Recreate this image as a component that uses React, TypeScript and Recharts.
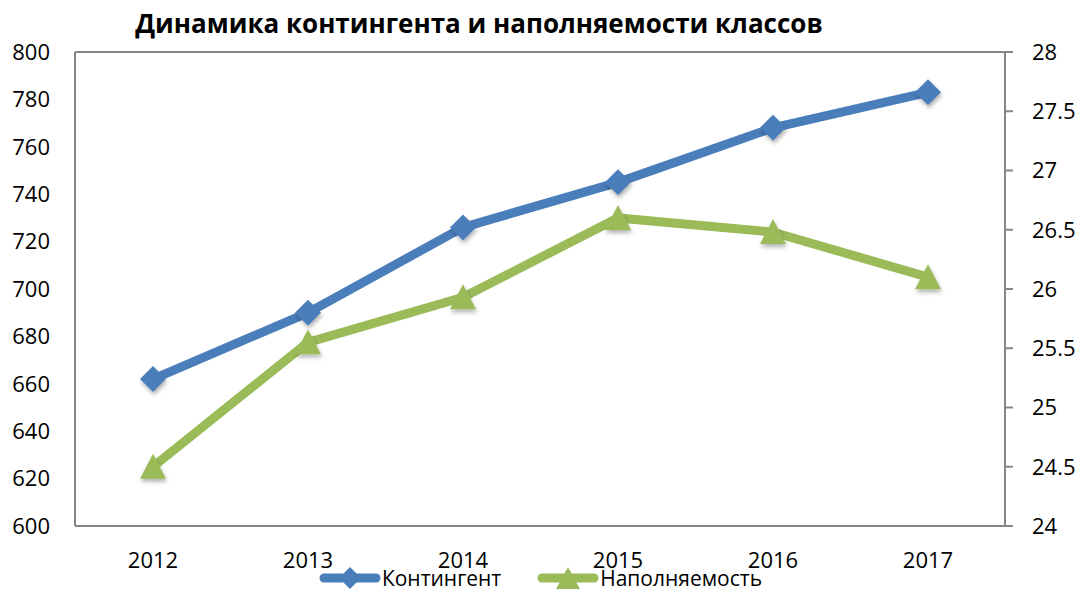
import { LineChart, Line, XAxis, YAxis, CartesianGrid, Legend } from 'recharts'

const years = ['2012', '2013', '2014', '2015', '2016', '2017']
const kontingent = [662, 690, 726, 745, 768, 783]
const napolnyaemost = [24.5, 25.55, 25.93, 26.6, 26.48, 26.1]
const leftTicks = [600, 620, 640, 660, 680, 700, 720, 740, 760, 780, 800]
const rightTicks = [24, 24.5, 25, 25.5, 26, 26.5, 27, 27.5, 28]

const BLUE = '#4a7ebb'
const GREEN = '#9bbb59'
const GRID = '#868686'
const FONT = '"Open Sans", "Noto Sans", sans-serif'

const data = years.map((y, i) => ({
  year: y,
  Контингент: kontingent[i],
  Наполняемость: napolnyaemost[i],
}))

const Diamond = (props: any) => {
  const { cx, cy } = props
  if (cx == null || cy == null) return null
  const r = 13
  return (
    <path
      d={`M${cx},${cy - r} L${cx + r},${cy} L${cx},${cy + r} L${cx - r},${cy} Z`}
      fill={BLUE}
      filter="url(#shadow)"
    />
  )
}

const Triangle = (props: any) => {
  const { cx, cy } = props
  if (cx == null || cy == null) return null
  return (
    <path
      d={`M${cx},${cy - 13} L${cx + 13},${cy + 12} L${cx - 13},${cy + 12} Z`}
      fill={GREEN}
      filter="url(#shadow)"
    />
  )
}

const LegendContent = () => {
  const items = [
    { name: 'Контингент', color: BLUE, shape: 'diamond' },
    { name: 'Наполняемость', color: GREEN, shape: 'triangle' },
  ]
  return (
    <div style={{ display: 'flex', justifyContent: 'center', gap: 36, fontFamily: FONT, fontSize: 21, color: '#000', height: 24 }}>
      {items.map((it) => (
        <div key={it.name} style={{ display: 'flex', alignItems: 'center' }}>
          <svg width={62} height={24} style={{ marginRight: 1 }}>
            <line x1={5} y1={12} x2={57} y2={12} stroke={it.color} strokeWidth={9} strokeLinecap="round" />
            {it.shape === 'diamond' ? (
              <path d="M31,1 L42,12 L31,23 L20,12 Z" fill={it.color} />
            ) : (
              <path d="M31,1 L43,23 L19,23 Z" fill={it.color} />
            )}
          </svg>
          <span style={{ lineHeight: '24px' }}>{it.name}</span>
        </div>
      ))}
    </div>
  )
}

export default function App() {
  return (
    <div style={{ position: 'absolute', left: 0, top: 0, width: 1081, height: 590, background: '#fff' }}>
      <div
        style={{
          position: 'absolute',
          left: 0,
          width: 958,
          top: 5,
          textAlign: 'center',
          fontFamily: FONT,
          fontWeight: 'bold',
          fontSize: 26,
          color: '#000',
          zIndex: 2,
        }}
      >
        Динамика контингента и наполняемости классов
      </div>
      <LineChart width={1081} height={590} data={data} margin={{ top: 52, right: 0, left: 0, bottom: 0 }}>
        <defs>
          <filter id="shadow" x="-50%" y="-50%" width="200%" height="200%">
            <feDropShadow dx="1" dy="3" stdDeviation="2" floodColor="#000" floodOpacity="0.3" />
          </filter>
        </defs>
        <CartesianGrid vertical={false} stroke={GRID} strokeWidth={2} />
        <XAxis
          dataKey="year"
          height={40}
          padding={{ left: 78, right: 77 }}
          tickLine={false}
          axisLine={{ stroke: GRID, strokeWidth: 2 }}
          tick={{ fontSize: 22, fill: '#000', fontFamily: FONT }}
          tickMargin={20}
        />
        <YAxis
          yAxisId="left"
          width={75}
          domain={[600, 800]}
          ticks={leftTicks}
          interval={0}
          tickLine={false}
          axisLine={{ stroke: GRID, strokeWidth: 2 }}
          tick={{ fontSize: 22, fill: '#000', fontFamily: FONT }}
          tickMargin={19}
        />
        <YAxis
          yAxisId="right"
          orientation="right"
          width={76}
          domain={[24, 28]}
          ticks={rightTicks}
          interval={0}
          tickSize={8}
          tickLine={{ stroke: GRID, strokeWidth: 2 }}
          axisLine={{ stroke: GRID, strokeWidth: 2 }}
          tick={{ fontSize: 22, fill: '#000', fontFamily: FONT }}
          tickMargin={19}
        />
        <Legend verticalAlign="bottom" height={24} content={<LegendContent />} />
        <Line
          yAxisId="left"
          dataKey="Контингент"
          stroke={BLUE}
          strokeWidth={9}
          dot={<Diamond />}
          activeDot={false}
          isAnimationActive={false}
        />
        <Line
          yAxisId="right"
          dataKey="Наполняемость"
          stroke={GREEN}
          strokeWidth={9}
          dot={<Triangle />}
          activeDot={false}
          isAnimationActive={false}
        />
      </LineChart>
    </div>
  )
}
